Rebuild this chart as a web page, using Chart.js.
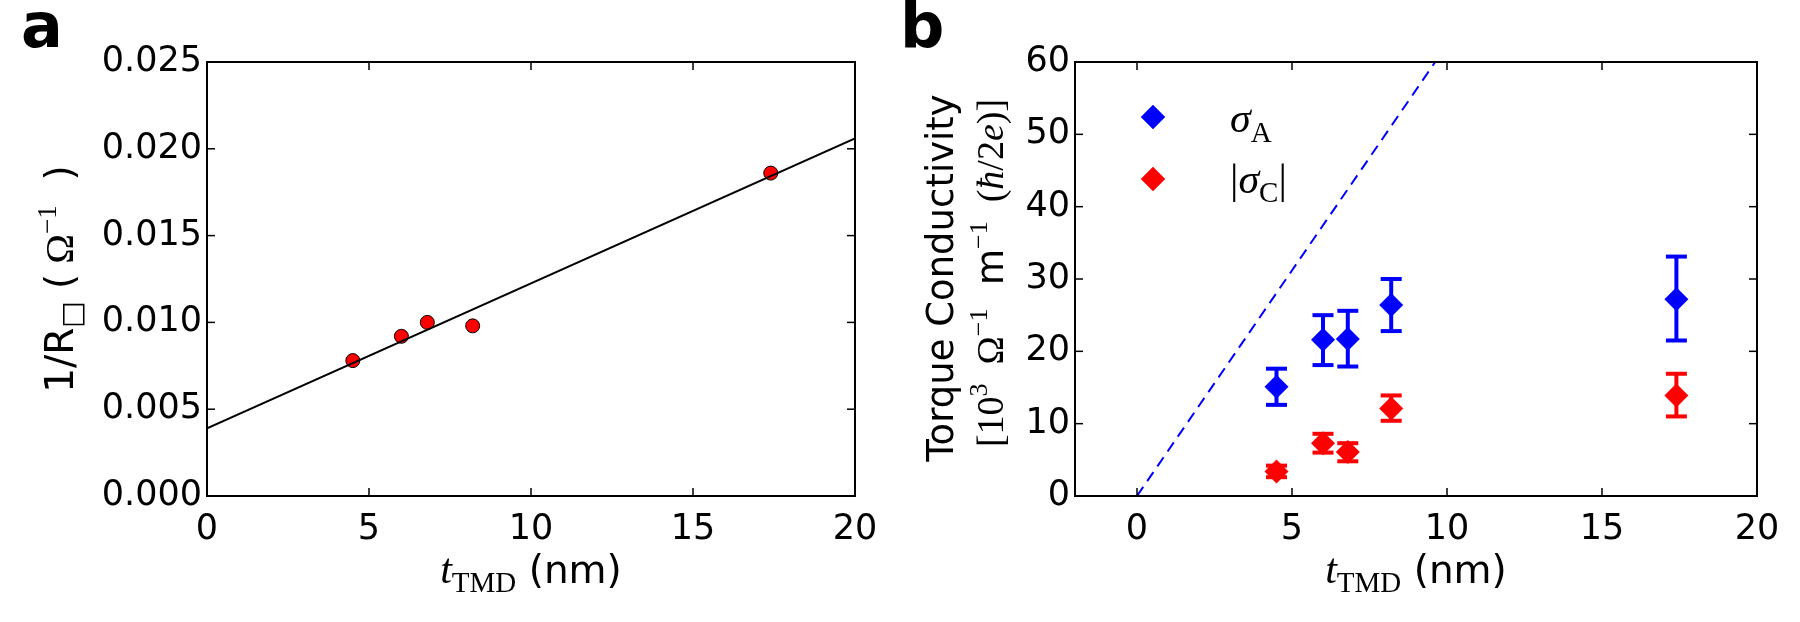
<!DOCTYPE html>
<html>
<head>
<meta charset="utf-8">
<script src="https://cdn.jsdelivr.net/npm/chart.js@4"></script>
<style>
  html, body { margin: 0; padding: 0; background: #fff; }
  .panel { position: absolute; top: 0; width: 900px; height: 622px; }
</style>
</head>
<body>
<div class="panel" style="left:0"><canvas id="chartA" width="900" height="622"></canvas></div>
<div class="panel" style="left:900px"><canvas id="chartB" width="900" height="622"></canvas></div>
<script>
// panel a : sheet conductance vs thickness
const thicknessA = [4.5, 6.0, 6.8, 8.2, 17.4];
const conductanceA = [0.0078, 0.0092, 0.0100, 0.0098, 0.0186];
const fitX = [0, 20];
const fitY = [0.0039, 0.0206];
const ticksAX = [0, 5, 10, 15, 20];
const ticksAY = [0, 0.005, 0.010, 0.015, 0.020, 0.025];

// panel b : torque conductivity
const thicknessB = [4.5, 6.0, 6.8, 8.2, 17.4];
const sigmaA = [15.1, 21.6, 21.7, 26.4, 27.2];
const sigmaAHigh = [17.6, 25.0, 25.6, 30.0, 33.1];
const sigmaALow = [12.6, 18.1, 17.9, 22.8, 21.5];
const sigmaC = [3.4, 7.3, 6.1, 12.1, 13.9];
const sigmaCHigh = [4.2, 8.6, 7.3, 13.9, 16.9];
const sigmaCLow = [2.6, 6.0, 4.8, 10.4, 11.0];
const guideX = [0, 9.62];
const guideY = [0, 60];
const ticksBX = [0, 5, 10, 15, 20];
const ticksBY = [0, 10, 20, 30, 40, 50, 60];

const SANS = "'DejaVu Sans', sans-serif";
const SERIF = "'Liberation Serif', 'DejaVu Serif', serif";
const sans = (px, w) => `${w || 'normal'} ${px}px ${SANS}`;
const serif = (px, st) => `${st || 'normal'} ${px}px ${SERIF}`;

const pts = (xs, ys) => xs.map((x, i) => ({ x: x, y: ys[i] }));

// text made of pieces with different fonts (mathtext-like labels)
function drawRich(ctx, segs, x, y, angle, align) {
  ctx.save();
  ctx.translate(x, y);
  if (angle) ctx.rotate(angle);
  ctx.textBaseline = 'alphabetic';
  ctx.textAlign = 'left';
  ctx.fillStyle = '#000';
  let total = 0;
  segs.forEach(s => { ctx.font = s.font; total += ctx.measureText(s.text).width; });
  let cx = align === 'left' ? 0 : -total / 2;
  segs.forEach(s => {
    ctx.font = s.font;
    ctx.fillText(s.text, cx, s.dy || 0);
    cx += ctx.measureText(s.text).width;
  });
  ctx.restore();
}

function line(ctx, x1, y1, x2, y2) {
  ctx.beginPath(); ctx.moveTo(x1, y1); ctx.lineTo(x2, y2); ctx.stroke();
}

const xTitle = [
  { text: 't', font: serif(42, 'italic') },
  { text: 'TMD', font: serif(29), dy: 9 },
  { text: ' (nm)', font: sans(39) }
];

function makeDecor(cfg) {
  return {
    id: 'decor',
    beforeDatasetsDraw(chart) {
      const { ctx, scales: { x, y } } = chart;
      chart.data.datasets.forEach(ds => {
        if (!ds.errLow) return;
        ctx.save();
        ctx.strokeStyle = ds.backgroundColor;
        ctx.lineWidth = 4;
        ds.data.forEach((p, j) => {
          const px = x.getPixelForValue(p.x);
          const lo = y.getPixelForValue(ds.errLow[j]);
          const hi = y.getPixelForValue(ds.errHigh[j]);
          line(ctx, px, lo, px, hi);
          line(ctx, px - 10.5, lo, px + 10.5, lo);
          line(ctx, px - 10.5, hi, px + 10.5, hi);
        });
        ctx.restore();
      });
    },
    afterDraw(chart) {
      const { ctx, chartArea: a, scales: { x, y } } = chart;
      ctx.save();
      ctx.strokeStyle = '#000';
      ctx.lineWidth = 1.5;
      x.ticks.forEach(t => {
        const px = x.getPixelForValue(t.value);
        line(ctx, px, a.bottom, px, a.bottom - 8);
        line(ctx, px, a.top, px, a.top + 8);
      });
      y.ticks.forEach(t => {
        const py = y.getPixelForValue(t.value);
        line(ctx, a.left, py, a.left + 8, py);
        line(ctx, a.right, py, a.right - 8, py);
      });
      ctx.lineWidth = 2;
      ctx.strokeRect(a.left, a.top, a.right - a.left, a.bottom - a.top);
      ctx.restore();

      // panel letter
      ctx.save();
      ctx.fillStyle = '#000';
      ctx.font = sans(62, 'bold');
      ctx.textBaseline = 'alphabetic';
      ctx.fillText(cfg.letter, cfg.letterX, 47);
      ctx.restore();

      drawRich(ctx, xTitle, (a.left + a.right) / 2, a.bottom + 87);
      cfg.yTitle.forEach(l => drawRich(ctx, l.segs, l.x, l.y, -Math.PI / 2));

      if (cfg.legend) {
        cfg.legend.forEach(item => {
          const ds = chart.data.datasets[item.dataset];
          ctx.save();
          ctx.fillStyle = ds.backgroundColor;
          Chart.helpers.drawPoint(ctx, { pointStyle: 'rectRot', radius: 12, borderWidth: 0 }, item.mx, item.my);
          ctx.fill();
          ctx.restore();
          drawRich(ctx, item.segs, item.tx, item.ty, 0, 'left');
        });
      }
    }
  };
}

function axes(xMin, xMax, xTicks, yMin, yMax, yTicks, yWidth, fmt) {
  const tickFont = { family: SANS, size: 35 };
  return {
    x: {
      type: 'linear', min: xMin, max: xMax,
      grid: { display: false, drawTicks: false }, border: { display: false },
      ticks: { font: tickFont, color: '#000', padding: 13, maxRotation: 0 },
      afterBuildTicks: s => { s.ticks = xTicks.map(v => ({ value: v })); },
      afterFit: s => { s.height = 126; }
    },
    y: {
      type: 'linear', min: yMin, max: yMax,
      grid: { display: false, drawTicks: false }, border: { display: false },
      ticks: { font: tickFont, color: '#000', padding: 5, callback: fmt },
      afterBuildTicks: s => { s.ticks = yTicks.map(v => ({ value: v })); },
      afterFit: s => { s.width = yWidth; }
    }
  };
}

new Chart(document.getElementById('chartA'), {
  type: 'scatter',
  data: {
    datasets: [{
      label: 'fit',
      data: pts(fitX, fitY),
      showLine: true,
      borderColor: '#000',
      borderWidth: 2,
      pointRadius: 0
    }, {
      label: '1/R',
      data: pts(thicknessA, conductanceA),
      backgroundColor: '#ff0000',
      borderColor: '#000',
      borderWidth: 1,
      pointRadius: 7
    }]
  },
  options: {
    responsive: false,
    animation: false,
    layout: { padding: { left: 0, top: 62, right: 45, bottom: 0 } },
    plugins: { legend: { display: false }, tooltip: { enabled: false } },
    scales: axes(0, 20, ticksAX, 0, 0.025, ticksAY, 207, v => v.toFixed(3))
  },
  plugins: [makeDecor({
    letter: 'a', letterX: 21,
    yTitle: [{
      x: 73, y: 279,
      segs: [
        { text: '1/R', font: sans(39) },
        { text: '\u25A1', font: sans(28), dy: 8 },
        { text: ' (', font: sans(39) },
        { text: ' \u03A9', font: serif(40) },
        { text: '\u22121', font: serif(27), dy: -17 },
        { text: '  )', font: sans(39) }
      ]
    }]
  })]
});

new Chart(document.getElementById('chartB'), {
  type: 'scatter',
  data: {
    datasets: [{
      label: 'guide',
      data: pts(guideX, guideY),
      showLine: true,
      borderColor: '#0000ff',
      borderWidth: 2,
      borderDash: [11, 7],
      pointRadius: 0
    }, {
      label: 'sigma A',
      data: pts(thicknessB, sigmaA),
      errLow: sigmaALow,
      errHigh: sigmaAHigh,
      backgroundColor: '#0000ff',
      borderColor: '#0000ff',
      borderWidth: 0,
      pointStyle: 'rectRot',
      pointRadius: 12
    }, {
      label: 'sigma C',
      data: pts(thicknessB, sigmaC),
      errLow: sigmaCLow,
      errHigh: sigmaCHigh,
      backgroundColor: '#ff0000',
      borderColor: '#ff0000',
      borderWidth: 0,
      pointStyle: 'rectRot',
      pointRadius: 12
    }]
  },
  options: {
    responsive: false,
    animation: false,
    layout: { padding: { left: 0, top: 62, right: 43, bottom: 0 } },
    plugins: { legend: { display: false }, tooltip: { enabled: false } },
    scales: axes(-2, 20, ticksBX, 0, 60, ticksBY, 175)
  },
  plugins: [makeDecor({
    letter: 'b', letterX: 0,
    yTitle: [{
      x: 53, y: 278,
      segs: [{ text: 'Torque Conductivity', font: sans(37) }]
    }, {
      x: 103, y: 273,
      segs: [
        { text: '[10', font: serif(38) },
        { text: '3', font: serif(26), dy: -16 },
        { text: '  ', font: serif(38) },
        { text: '\u03A9', font: serif(38) },
        { text: '\u22121', font: serif(26), dy: -16 },
        { text: '  m', font: sans(37) },
        { text: '\u22121', font: serif(26), dy: -16 },
        { text: '  (', font: serif(38) },
        { text: '\u0127', font: serif(38, 'italic') },
        { text: '/2', font: serif(38) },
        { text: 'e', font: serif(38, 'italic') },
        { text: ')]', font: serif(38) }
      ]
    }],
    legend: [{
      dataset: 1, mx: 253, my: 117, tx: 330, ty: 132,
      segs: [
        { text: '\u03C3', font: serif(42, 'italic') },
        { text: 'A', font: serif(29), dy: 10 }
      ]
    }, {
      dataset: 2, mx: 253, my: 179, tx: 330, ty: 193,
      segs: [
        { text: '|', font: serif(42) },
        { text: '\u03C3', font: serif(42, 'italic') },
        { text: 'C', font: serif(29), dy: 9 },
        { text: '|', font: serif(42) }
      ]
    }]
  })]
});
</script>
</body>
</html>
